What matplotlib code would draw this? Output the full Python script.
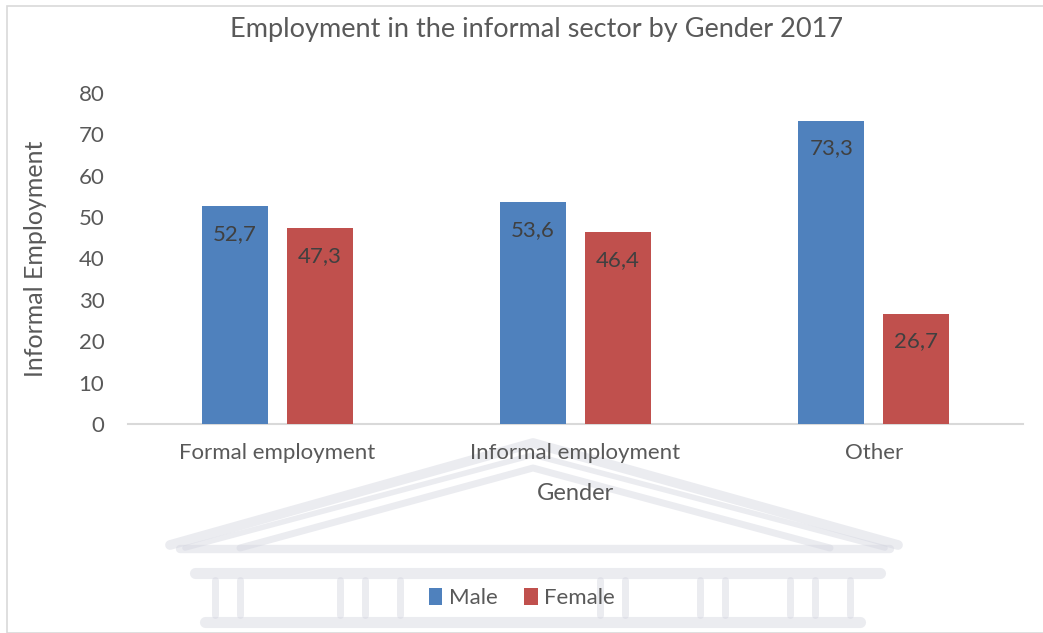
import matplotlib
matplotlib.use("Agg")
import matplotlib.pyplot as plt
import numpy as np
from matplotlib.patches import Rectangle

# Employment shares (%) by gender, 2017
categories = ["Formal employment", "Informal employment", "Other"]
male = [52.7, 53.6, 73.3]
female = [47.3, 46.4, 26.7]
series_names = ["Male", "Female"]

BLUE = "#4F81BD"
RED = "#C0504D"
TEXT = "#595959"
W, H = 1043, 633

plt.rcParams["font.family"] = ["Lato", "DejaVu Sans"]

fig = plt.figure(figsize=(W / 100, H / 100), dpi=100)

def px(x, y):
    # pixel (top-left origin) -> figure fraction
    return x / W, 1 - y / H

# faint building backdrop
wm = "#D3D5DF"
def wline(pts, lw=7):
    xs, ys = zip(*[px(a, b) for a, b in pts])
    fig.add_artist(plt.Line2D(xs, ys, color=wm, lw=lw, alpha=0.45, zorder=0,
                              solid_capstyle="round"))
wline([(170, 545), (533, 443), (898, 545)])
wline([(185, 548), (533, 455), (885, 548)], lw=4)
wline([(240, 548), (533, 468), (830, 548)], lw=5)
wline([(180, 549), (890, 549)], lw=6)
wline([(195, 573), (880, 573)], lw=8)
wline([(205, 622), (860, 622)], lw=8)
for cx in [215, 240, 340, 365, 400, 600, 625, 700, 725, 790, 815, 850]:
    wline([(cx, 580), (cx, 615)], lw=5)

# outer chart frame
x0, y0 = px(7, 6)
fig.add_artist(Rectangle((x0, 0.0), 1.2, y0, transform=fig.transFigure,
                         fill=False, ec="#D9D9D9", lw=1.2, zorder=1))

l, t = px(128, 93)
r, b = px(1023, 424)
ax = fig.add_axes([l, b, r - l, t - b])
ax.patch.set_alpha(0)

x = np.arange(len(categories))
bw = 0.222
off = 0.1425
bars_m = ax.bar(x - off, male, bw, color=BLUE, label=series_names[0], zorder=3)
bars_f = ax.bar(x + off, female, bw, color=RED, label=series_names[1], zorder=3)

for bars in (bars_m, bars_f):
    for rect in bars:
        v = rect.get_height()
        ax.annotate(f"{v:.1f}".replace(".", ","),
                    (rect.get_x() + rect.get_width() / 2, v),
                    xytext=(0, -20), textcoords="offset points",
                    ha="center", va="center", fontsize=16, color="#404040",
                    zorder=4)

ax.set_xlim(-0.5, len(categories) - 0.5)
ax.set_ylim(0, 80)
ax.set_yticks(range(0, 81, 10))
ax.set_xticks(x)
ax.set_xticklabels(categories)
ax.tick_params(axis="both", length=0, labelsize=16, labelcolor=TEXT)
ax.tick_params(axis="x", pad=14)
ax.tick_params(axis="y", pad=17)
for s in ("top", "right", "left"):
    ax.spines[s].set_visible(False)
ax.spines["bottom"].set_color("#D9D9D9")
ax.spines["bottom"].set_linewidth(1.5)

ax.set_ylabel("Informal Employment", fontsize=18, color=TEXT, labelpad=23)
ax.set_xlabel("Gender", fontsize=17, color=TEXT, labelpad=14)

tx, ty = px(537, 30)
fig.text(tx, ty, "Employment in the informal sector by Gender 2017",
         ha="center", va="center", fontsize=19.5, color=TEXT)

lx, ly = px(522, 598)
fig.legend(loc="center", bbox_to_anchor=(lx, ly), ncol=2, frameon=False,
           fontsize=16, labelcolor=TEXT, handlelength=0.6, handleheight=0.8,
           handletextpad=0.3, columnspacing=1.2)

fig.savefig("out.png", dpi=100)
